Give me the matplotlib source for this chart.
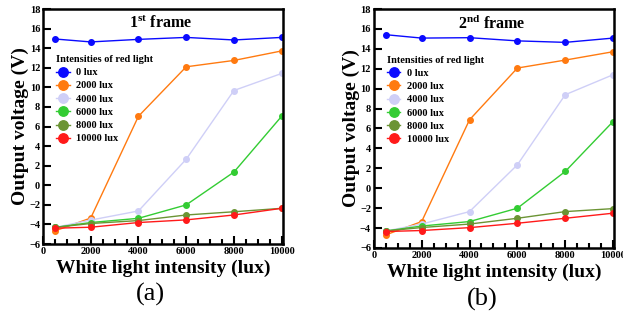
import matplotlib
matplotlib.use("Agg")
import matplotlib.pyplot as plt
from matplotlib.ticker import MultipleLocator

plt.rcParams["font.family"] = "Liberation Serif"
plt.rcParams["font.weight"] = "bold"
plt.rcParams["mathtext.fontset"] = "custom"
plt.rcParams["mathtext.rm"] = "Liberation Serif:bold"
plt.rcParams["mathtext.bf"] = "Liberation Serif:bold"

white_lux = [500, 2000, 4000, 6000, 8000, 10000]
red_labels = ["0 lux", "2000 lux", "4000 lux", "6000 lux", "8000 lux", "10000 lux"]
colors = ["#0a0aff", "#ff7a10", "#cfcff7", "#33cc33", "#6b9434", "#ff1a1a"]

frame1 = [
    [14.94, 14.64, 14.9, 15.1, 14.84, 15.1],
    [-4.66, -3.34, 7.05, 12.1, 12.75, 13.72],
    [-4.3, -3.55, -2.62, 2.66, 9.68, 11.42],
    [-4.3, -3.8, -3.37, -2.0, 1.35, 7.05],
    [-4.3, -3.9, -3.6, -3.03, -2.7, -2.35],
    [-4.38, -4.28, -3.8, -3.53, -3.03, -2.35],
]
frame2 = [
    [15.42, 15.08, 15.12, 14.8, 14.65, 15.08],
    [-4.69, -3.35, 6.87, 12.07, 12.87, 13.71],
    [-4.3, -3.6, -2.35, 2.35, 9.39, 11.4],
    [-4.3, -3.8, -3.35, -2.01, 1.68, 6.7],
    [-4.3, -3.95, -3.6, -3.02, -2.35, -2.05],
    [-4.35, -4.25, -3.96, -3.52, -3.02, -2.51],
]
titles = ["1$^{\\rm st}$ frame", "2$^{\\rm nd}$ frame"]
panel_tags = ["(a)", "(b)"]

fig = plt.figure(figsize=(6.23, 3.22), dpi=100)
rects = [[0.069, 0.242, 0.385, 0.730], [0.600, 0.230, 0.386, 0.742]]

for rect, data, title, tag in zip(rects, [frame1, frame2], titles, panel_tags):
    ax = fig.add_axes(rect)
    for ys, c, lab in zip(data, colors, red_labels):
        ax.plot(white_lux, ys, color=c, marker="o", markersize=4, linewidth=1, label=lab)
    ax.set_xlim(0, 10050)
    ax.set_ylim(-6, 18)
    ax.xaxis.set_major_locator(MultipleLocator(2000))
    ax.xaxis.set_minor_locator(MultipleLocator(500))
    ax.yaxis.set_major_locator(MultipleLocator(2))
    ax.tick_params(axis="both", which="major", direction="in", labelsize=7.5, width=1.5, length=6, pad=2)
    ax.tick_params(axis="x", which="minor", direction="in", width=1.5, length=3.5)
    for sp in ax.spines.values():
        sp.set_linewidth(1.8)
    for t in ax.get_xticklabels() + ax.get_yticklabels():
        t.set_fontweight("bold")
    ax.text(0.49, 0.94, title, transform=ax.transAxes, ha="center", va="center",
            fontsize=11.5, fontweight="bold")
    leg = ax.legend(loc="upper left", bbox_to_anchor=(0.02, 0.84), frameon=False,
                    title="Intensities of red light", markerscale=1.7,
                    prop={"size": 7.5, "weight": "bold"}, handlelength=1.3,
                    handletextpad=0.6, labelspacing=0.38, borderpad=0.3)
    leg.get_title().set_fontsize(7.5)
    leg.get_title().set_fontweight("bold")
    leg._legend_box.align = "left"
    ax.set_xlabel("White light intensity (lux)", fontsize=14, fontweight="bold", labelpad=3)
    ax.set_ylabel("Output voltage (V)", fontsize=14, fontweight="bold", labelpad=0)
    ax.text(0.45, -0.215, tag, transform=ax.transAxes, ha="center", va="center",
            fontsize=19, fontweight="normal")

fig.savefig("out.png", dpi=100)
